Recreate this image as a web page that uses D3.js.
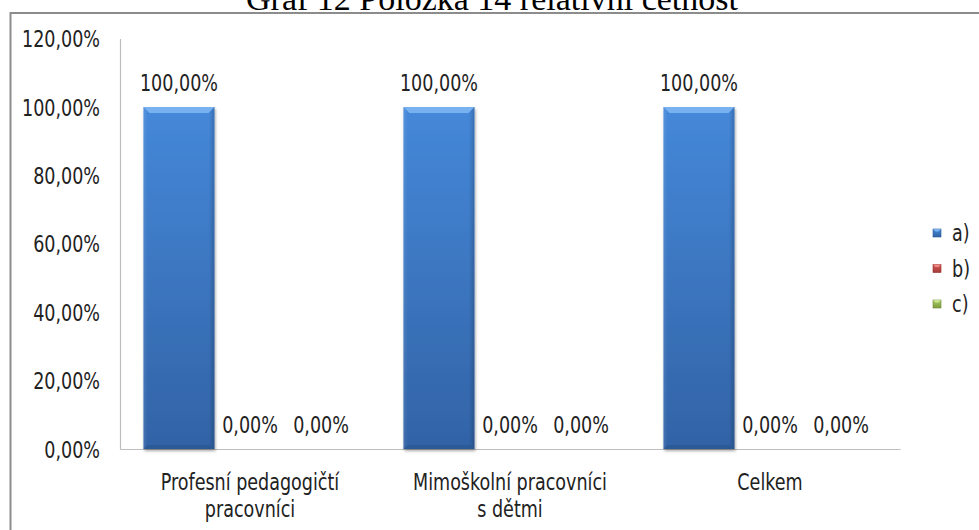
<!DOCTYPE html>
<html>
<head>
<meta charset="utf-8">
<script src="https://cdn.jsdelivr.net/npm/d3@7"></script>
<style>
  body { margin: 0; background: #fff; }
  svg { display: block; }
  .lbl { font-family: "Liberation Sans Narrow", "DejaVu Sans Condensed", sans-serif; font-size: 23.5px; fill: #222; }
</style>
</head>
<body>
<div id="chart"></div>
<script>
// chart data
var title = "Graf 12 Položka 14 relativní četnost";
var categories = ["Profesní pedagogičtí pracovníci", "Mimoškolní pracovníci s dětmi", "Celkem"];
var categoryLines = [["Profesní pedagogičtí", "pracovníci"], ["Mimoškolní pracovníci", "s dětmi"], ["Celkem"]];
var seriesNames = ["a)", "b)", "c)"];
var valuesA = [1, 1, 1];
var valuesB = [0, 0, 0];
var valuesC = [0, 0, 0];
var yTicks = [0, 0.2, 0.4, 0.6, 0.8, 1.0, 1.2];

var W = 979, H = 530;
var plot = { left: 120, right: 900, top: 38.6, bottom: 449 };
var SX = 0.83; // narrow the fallback font to a Calibri-like width

var colors = {
	"a)": { top: "#4588d9", bot: "#3263a6", hi: "#78b1f0", dk: "#2b5893" },
	"b)": { top: "#d65a57", bot: "#a63a37", hi: "#ef8a87", dk: "#8f2e2b" },
	"c)": { top: "#a9cc63", bot: "#7d9c3e", hi: "#c7e58f", dk: "#6a8634" }
};

var fmt = function(v) {
	return d3.format(".2f")(v * 100).replace(".", ",") + "%";
};

// text drawn at (x,y) and squeezed horizontally
function label(parent, x, y, anchor, str) {
	return parent.append("text")
		.attr("class", "lbl")
		.attr("transform", "translate(" + x + "," + y + ") scale(" + SX + ",1)")
		.attr("text-anchor", anchor)
		.text(str);
}

var svg = d3.select("#chart").append("svg")
	.attr("width", W)
	.attr("height", H);

var defs = svg.append("defs");
seriesNames.forEach(function(s, i) {
	var c = colors[s];
	var g = defs.append("linearGradient").attr("id", "grad" + i)
		.attr("x1", 0).attr("y1", 0).attr("x2", 0).attr("y2", 1);
	g.append("stop").attr("offset", "0%").attr("stop-color", c.top);
	g.append("stop").attr("offset", "100%").attr("stop-color", c.bot);
	var h = defs.append("linearGradient").attr("id", "side" + i)
		.attr("x1", 0).attr("y1", 0).attr("x2", 1).attr("y2", 0);
	h.append("stop").attr("offset", "0%").attr("stop-color", "#fff").attr("stop-opacity", 0.10);
	h.append("stop").attr("offset", "6%").attr("stop-color", "#fff").attr("stop-opacity", 0);
	h.append("stop").attr("offset", "92%").attr("stop-color", "#000").attr("stop-opacity", 0);
	h.append("stop").attr("offset", "100%").attr("stop-color", "#000").attr("stop-opacity", 0.18);
});
var shadow = defs.append("filter").attr("id", "shadow")
	.attr("x", "-20%").attr("y", "-5%").attr("width", "140%").attr("height", "115%");
shadow.append("feDropShadow").attr("dx", 1).attr("dy", 2).attr("stdDeviation", 1.5)
	.attr("flood-color", "#000").attr("flood-opacity", 0.35);

// outer frame
svg.append("rect")
	.attr("x", 10.5).attr("y", 13)
	.attr("width", W + 20).attr("height", H + 20)
	.attr("fill", "none")
	.attr("stroke", "#8c8c8c")
	.attr("stroke-width", 2);

// title (mostly cut off at the top, as in the source)
svg.append("text")
	.attr("x", 492)
	.attr("y", 10)
	.attr("text-anchor", "middle")
	.style("font-family", "'Liberation Serif', 'Times New Roman', serif")
	.style("font-size", "34px")
	.attr("fill", "#000")
	.text(title);

var x0 = d3.scaleBand()
	.domain(categories)
	.range([plot.left, plot.right])
	.padding(0);

var x1 = d3.scaleBand()
	.domain(seriesNames)
	.range([0, x0.bandwidth()])
	.paddingInner(0)
	.paddingOuter(0.33);

var y = d3.scaleLinear()
	.domain([0, 1.2])
	.range([plot.bottom, plot.top]);

// y axis
var yg = svg.append("g")
	.attr("transform", "translate(" + plot.left + ",0)")
	.call(d3.axisLeft(y).tickValues(yTicks).tickSize(0).tickFormat(""));
yg.select(".domain").attr("stroke", "#bdbdbd").attr("stroke-width", 1.2);
yTicks.forEach(function(t) {
	label(svg, plot.left - 20, y(t) + 8.5, "end", fmt(t));
});

// x axis line
var xg = svg.append("g")
	.attr("transform", "translate(0," + plot.bottom + ")")
	.call(d3.axisBottom(x0).tickSize(0).tickFormat(""));
xg.select(".domain").attr("stroke", "#bdbdbd").attr("stroke-width", 1.2);

// category labels
categories.forEach(function(cat, i) {
	categoryLines[i].forEach(function(line, j) {
		label(svg, x0(cat) + x0.bandwidth() / 2, 490 + j * 27, "middle", line);
	});
});

// bars
var allValues = [valuesA, valuesB, valuesC];
var rows = categories.map(function(cat, i) {
	return seriesNames.map(function(s, k) {
		return { cat: cat, series: s, k: k, value: allValues[k][i] };
	});
});

var groups = svg.selectAll("g.grp")
	.data(rows)
	.enter().append("g")
	.attr("class", "grp")
	.attr("transform", function(d) { return "translate(" + x0(d[0].cat) + ",0)"; });

var bars = groups.selectAll("g.bar")
	.data(function(d) { return d.filter(function(e) { return e.value > 0; }); })
	.enter().append("g")
	.attr("class", "bar");

bars.append("rect")
	.attr("x", function(d) { return x1(d.series); })
	.attr("y", function(d) { return y(d.value); })
	.attr("width", x1.bandwidth())
	.attr("height", function(d) { return y(0) - y(d.value); })
	.attr("fill", function(d) { return "url(#grad" + d.k + ")"; })
	.attr("filter", "url(#shadow)");

bars.append("rect")
	.attr("x", function(d) { return x1(d.series); })
	.attr("y", function(d) { return y(d.value); })
	.attr("width", x1.bandwidth())
	.attr("height", function(d) { return y(0) - y(d.value); })
	.attr("fill", function(d) { return "url(#side" + d.k + ")"; });

// top bevel
bars.append("path")
	.attr("d", function(d) {
		var xa = x1(d.series), xb = xa + x1.bandwidth(), yt = y(d.value), b = 6;
		return "M" + xa + "," + yt + "L" + xb + "," + yt + "L" + (xb - b) + "," + (yt + b) + "L" + (xa + b) + "," + (yt + b) + "Z";
	})
	.attr("fill", function(d) { return colors[d.series].hi; });

// bottom bevel
bars.append("path")
	.attr("d", function(d) {
		var xa = x1(d.series), xb = xa + x1.bandwidth(), yb = y(0), b = 4;
		return "M" + xa + "," + yb + "L" + xb + "," + yb + "L" + (xb - b) + "," + (yb - b) + "L" + (xa + b) + "," + (yb - b) + "Z";
	})
	.attr("fill", function(d) { return colors[d.series].dk; })
	.attr("opacity", 0.8);

// value labels
groups.each(function(row) {
	var g = d3.select(this);
	row.forEach(function(d) {
		label(g, x1(d.series) + x1.bandwidth() / 2, y(d.value) - 16, "middle", fmt(d.value));
	});
});

// legend
var legend = svg.selectAll("g.legend")
	.data(seriesNames)
	.enter().append("g")
	.attr("class", "legend")
	.attr("transform", function(d, i) { return "translate(933," + (229 + i * 35.5) + ")"; });

legend.append("rect")
	.attr("width", 8).attr("height", 8)
	.attr("fill", function(d, i) { return "url(#grad" + i + ")"; })
	.attr("stroke", function(d) { return colors[d].dk; })
	.attr("stroke-width", 0.6);
legend.append("path")
	.attr("d", "M0,0L8,0L5.5,2.5L2.5,2.5Z")
	.attr("fill", function(d) { return colors[d].hi; });

legend.each(function(d) {
	label(d3.select(this), 19, 12, "start", d);
});
</script>
</body>
</html>
